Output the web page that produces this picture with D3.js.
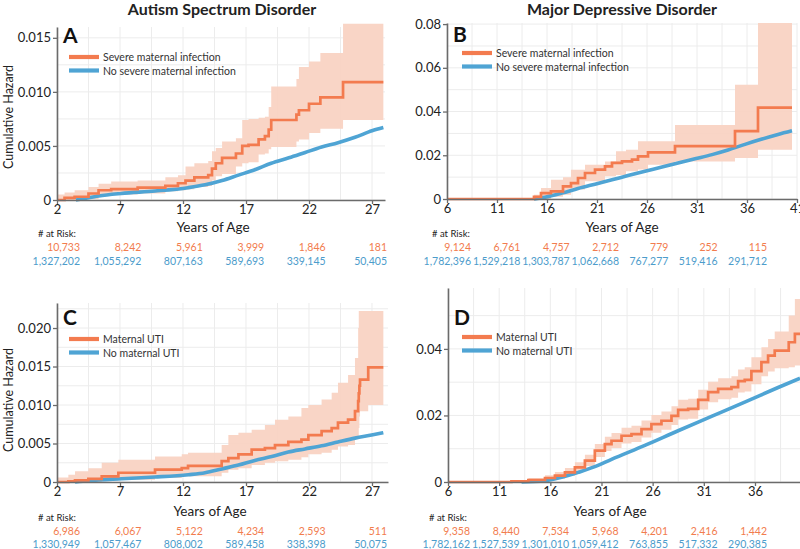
<!DOCTYPE html>
<html><head><meta charset="utf-8">
<script src="https://cdn.jsdelivr.net/npm/d3@7"></script>
<style>
body{margin:0;background:#fff;}
svg{display:block;font-family:Lato,'Open Sans',sans-serif;}
</style></head>
<body>
<svg id="chart" width="800" height="549"></svg>
<script>
// ---------- DATA ----------
// Panel A: Autism, severe maternal infection
const ageA_inf = [2.0,2.6,3.4,4.5,5.3,6.3,8.4,10.6,11.6,12.2,12.9,14.0,14.3,14.6,15.1,16.2,16.7,17.2,18.0,18.5,18.8,19.0,21.0,21.2,22.0,22.9,24.7,27.9];
const hazA_inf = [0,0.0002,0.0003,0.0006,0.0009,0.001,0.00115,0.0013,0.00155,0.0018,0.0021,0.0023,0.0029,0.0034,0.0039,0.0043,0.005,0.0051,0.0056,0.0059,0.0065,0.0074,0.0079,0.0083,0.0089,0.0095,0.0109,0.0109];
const loA_inf  = [0,0,0.0001,0.0001,0.0004,0.0005,0.0006,0.0008,0.0009,0.001,0.0012,0.0013,0.0018,0.0022,0.0024,0.0031,0.0034,0.0035,0.0042,0.0043,0.0047,0.0049,0.0054,0.0056,0.0062,0.0066,0.0074,0.0074];
const hiA_inf  = [0.0005,0.0007,0.0009,0.0012,0.0015,0.0017,0.0018,0.0021,0.0023,0.0031,0.0034,0.0036,0.0045,0.0048,0.0054,0.0057,0.0074,0.0075,0.0076,0.0077,0.0086,0.0105,0.0112,0.0123,0.0128,0.0136,0.0163,0.0163];
const ageA_no  = [3.5,4.0,5.3,7.1,9.8,12.4,13.75,15.1,16.4,17.7,19.0,20.4,21.7,23.0,24.3,25.65,27.0,27.9];
const hazA_no  = [0,0.0001,0.00037,0.0006,0.00083,0.00114,0.0014,0.0018,0.0023,0.0028,0.0034,0.0039,0.0044,0.0049,0.0053,0.0058,0.0064,0.0067];
const riskA_inf = [10733,8242,5961,3999,1846,181];
const riskA_no  = [1327202,1055292,807163,589693,339145,50405];

// Panel B: Major depressive disorder, severe maternal infection
const ageB_inf = [6,14.7,15.4,16.4,17.6,18.4,19.1,19.8,20.8,21.8,22.5,22.9,23.5,23.9,24.5,25.1,26.1,28.8,34.8,37.1,40.5];
const hazB_inf = [0,0.001,0.0027,0.0035,0.0058,0.0073,0.0096,0.0119,0.0134,0.0149,0.0165,0.0165,0.0172,0.0172,0.018,0.0195,0.0213,0.0242,0.0310,0.0418,0.0418];
const loB_inf  = [0,0,0,0.001,0.002,0.0043,0.0043,0.0081,0.0081,0.0104,0.0104,0.011,0.011,0.0127,0.0127,0.0135,0.0157,0.0172,0.0187,0.0225,0.0225];
const hiB_inf  = [0,0.002,0.005,0.0088,0.010,0.0134,0.0134,0.0157,0.0157,0.0172,0.0172,0.0218,0.0218,0.0225,0.0225,0.0264,0.0264,0.0338,0.0523,0.0805,0.0805];
const ageB_no  = [14.7,15.8,17.5,19.1,20.8,22.5,24.1,25.8,27.5,29.1,30.8,32.5,34.1,35.8,37.5,39.1,40.5];
const hazB_no  = [0,0.0008,0.0027,0.0048,0.0068,0.0088,0.0107,0.0127,0.0146,0.0165,0.0184,0.0203,0.0224,0.0250,0.0274,0.0295,0.0312];
const riskB_inf = [9124,6761,4757,2712,779,252,115];
const riskB_no  = [1782396,1529218,1303787,1062668,767277,519416,291712];

// Panel C: Autism, maternal UTI
const ageC_inf = [2.0,2.9,3.43,4.49,5.55,6.87,9.78,11.9,12.4,15.07,15.6,16.4,17.45,18.5,19.3,20.36,21.4,21.95,23.0,23.8,24.3,25.1,25.65,25.9,25.95,26.0,26.05,26.7,27.9];
const hazC_inf = [0,0.0001,0.0002,0.0004,0.00074,0.0012,0.0016,0.0018,0.0021,0.0027,0.0031,0.0036,0.0042,0.0044,0.0048,0.0052,0.0055,0.0061,0.0066,0.007,0.0077,0.0081,0.0092,0.0105,0.0115,0.0125,0.0133,0.0149,0.0149];
const loC_inf  = [0,0,0,0,0.00017,0.0003,0.00052,0.00074,0.00074,0.0012,0.0016,0.0018,0.0022,0.0025,0.0027,0.0029,0.0032,0.0036,0.0038,0.0042,0.0046,0.0048,0.0057,0.0057,0.0070,0.0085,0.0092,0.0100,0.0100];
const hiC_inf  = [0.0006,0.00095,0.0014,0.0018,0.0025,0.0029,0.0033,0.0036,0.0038,0.0048,0.0061,0.0064,0.0068,0.0074,0.0081,0.0085,0.0096,0.0100,0.0107,0.0116,0.0129,0.0139,0.0161,0.0200,0.0222,0.0222,0.0222,0.0222,0.0222];
const ageC_no  = [3.43,4.49,7.13,9.78,12.42,13.75,15.07,16.4,17.7,19.04,20.36,21.68,23.0,24.3,25.65,26.97,27.9];
const hazC_no  = [0,0.00017,0.00043,0.00065,0.00095,0.0012,0.0017,0.0022,0.0028,0.0033,0.0039,0.0043,0.0047,0.0052,0.0057,0.0061,0.0064];
const riskC_inf = [6986,6067,5122,4234,2593,511];
const riskC_no  = [1330949,1057467,808002,589458,338398,50075];

// Panel D: Major depressive disorder, maternal UTI
const ageD_inf = [6,12.2,13.85,15.48,16.45,17.43,18.4,19.38,20.35,21.33,21.98,22.96,23.93,24.91,25.88,26.86,27.84,28.49,29.47,30.45,31.42,32.4,33.7,34.35,35.0,35.65,36.63,37.28,37.93,39.3,39.9,40.4];
const hazD_inf = [0,0.0002,0.0006,0.0012,0.0019,0.0029,0.0044,0.0064,0.0094,0.0114,0.0124,0.0139,0.0144,0.0159,0.0174,0.0184,0.0199,0.0217,0.022,0.0247,0.027,0.028,0.0285,0.0303,0.0307,0.0333,0.036,0.038,0.0395,0.042,0.0445,0.0445];
const loD_inf  = [0,0,0.0001,0.0005,0.001,0.0018,0.0031,0.0048,0.0075,0.0093,0.0102,0.0116,0.012,0.0134,0.0148,0.0157,0.0171,0.0188,0.019,0.0218,0.024,0.0249,0.0253,0.0269,0.0272,0.0294,0.0318,0.0332,0.0342,0.0345,0.035,0.035];
const hiD_inf  = [0,0.0006,0.0012,0.002,0.003,0.0042,0.0059,0.0082,0.0114,0.0136,0.0147,0.0163,0.0169,0.0185,0.0201,0.0212,0.0228,0.0247,0.025,0.0277,0.0301,0.0312,0.0318,0.0338,0.0345,0.0375,0.0405,0.043,0.0452,0.05,0.055,0.055];
const ageD_no  = [13.19,15.48,17.1,18.73,20.35,21.98,25.24,28.49,31.75,35.0,38.26,40.4];
const hazD_no  = [0,0.0004,0.0014,0.0029,0.0046,0.0068,0.011,0.0154,0.0197,0.024,0.0284,0.0312];
const riskD_inf = [9358,8440,7534,5968,4201,2416,1442];
const riskD_no  = [1782162,1527539,1301010,1059412,763855,517332,290385];

const titles = ["Autism Spectrum Disorder","Major Depressive Disorder"];
const letters = ["A","B","C","D"];
const legendInfection = ["Severe maternal infection","No severe maternal infection"];
const legendUTI = ["Maternal UTI","No maternal UTI"];
const xTicksASD = [2,7,12,17,22,27];
const xTicksMDD_B = [6,11,16,21,26,31,36,41];
const xTicksMDD_D = [6,11,16,21,26,31,36];
const yTicksA = [0,0.005,0.010,0.015];
const yTicksB = [0,0.02,0.04,0.06,0.08];
const yTicksC = [0,0.005,0.010,0.015,0.020];
const yTicksD = [0,0.02,0.04];

// ---------- DRAW ----------
const ORANGE = "#f37b4f", BLUE = "#4fa4d4", BAND = "#f9d3c3";
const RISK_OR = "#f27c4e", RISK_BL = "#4c9ccb";
const svg = d3.select("#chart");

function zip(ages, vals){ return ages.map((a,i)=>[a, vals[i]]); }

function panel(c){
  const g = svg.append("g");
  const x = d3.scaleLinear().domain(c.xDomain).range([c.left, c.right]);
  const y = d3.scaleLinear().domain(c.yDomain).range([c.bottom, c.top]);

  // grid
  const xg = d3.range(c.xDomain[0], c.xDomain[1] + 1e-6, 2.5);
  g.selectAll(".vg").data(xg).join("line")
    .attr("x1", d=>x(d)).attr("x2", d=>x(d))
    .attr("y1", c.top).attr("y2", c.bottom)
    .attr("stroke", "#ececec").attr("stroke-width", 1);
  const yg = d3.range(0, c.yDomain[1] + 1e-9, c.yMinor);
  g.selectAll(".hg").data(yg).join("line")
    .attr("x1", c.left).attr("x2", c.right)
    .attr("y1", d=>y(d)).attr("y2", d=>y(d))
    .attr("stroke", "#ececec").attr("stroke-width", 1);

  // band
  const bandData = c.ageInf.map((a,i)=>({a, lo:c.loInf[i], hi:c.hiInf[i]}));
  g.append("path").datum(bandData)
    .attr("d", d3.area().curve(d3.curveStepAfter).x(d=>x(d.a)).y0(d=>y(d.lo)).y1(d=>y(d.hi)))
    .attr("fill", BAND).attr("opacity", 0.95);

  // blue line
  g.append("path").datum(zip(c.ageNo, c.hazNo))
    .attr("d", d3.line().curve(d3.curveMonotoneX).x(d=>x(d[0])).y(d=>y(d[1])))
    .attr("fill","none").attr("stroke", BLUE).attr("stroke-width", 3.6)
    .attr("stroke-linejoin","round");

  // orange step line
  g.append("path").datum(zip(c.ageInf, c.hazInf))
    .attr("d", d3.line().curve(d3.curveStepAfter).x(d=>x(d[0])).y(d=>y(d[1])))
    .attr("fill","none").attr("stroke", ORANGE).attr("stroke-width", 2.7);

  // axes
  const xa = g.append("g").attr("transform", `translate(0,${c.bottom})`)
    .call(d3.axisBottom(x).tickValues(c.xTicks).tickSize(4).tickSizeOuter(0).tickPadding(1).tickFormat(d3.format("d")));
  const ya = g.append("g").attr("transform", `translate(${c.left},0)`)
    .call(d3.axisLeft(y).tickValues(c.yTicks).tickSize(4).tickSizeOuter(0).tickPadding(2)
      .tickFormat(d=> d===0 ? "0" : d3.format(c.yFmt)(d)));
  [xa, ya].forEach(a=>{
    a.select(".domain").attr("stroke","#6b6b6b").attr("stroke-width",1.6);
    a.selectAll(".tick line").attr("stroke","#6b6b6b").attr("stroke-width",1.3);
    a.selectAll(".tick text").attr("fill","#222").style("font-size","13px").style("font-family","Lato,'Open Sans',sans-serif");
  });

  // panel letter
  g.append("text").attr("x", c.left + 6).attr("y", c.letterY)
    .text(c.letter).attr("font-size", 21).attr("font-weight", 700).attr("fill","#111");

  // legend
  c.legend.forEach((t,i)=>{
    const ly = c.legY + i*13.5;
    g.append("line").attr("x1", c.legX).attr("x2", c.legX+30).attr("y1", ly).attr("y2", ly)
      .attr("stroke", i===0?ORANGE:BLUE).attr("stroke-width", 4.2);
    g.append("text").attr("x", c.legX+34).attr("y", ly+4).text(t)
      .attr("font-size", 10.5).attr("fill","#333");
  });

  // x label
  g.append("text").attr("x", c.xLabX).attr("y", c.xLabY).attr("text-anchor","middle")
    .text("Years of Age").attr("font-size", 13.5).attr("fill","#222");

  // y label
  if (c.yLabel) {
    g.append("text").attr("transform", `translate(${c.yLabX},${c.yLabY}) rotate(-90)`)
      .attr("text-anchor","middle").text("Cumulative Hazard").attr("font-size", 12.5).attr("fill","#222");
  }

  // at risk
  g.append("text").attr("x", c.riskLabX).attr("y", c.riskLabY).text("# at Risk:")
    .attr("font-size", 9.5).attr("fill","#222");
  const rp = d3.scaleLinear().domain([0, c.riskInf.length-1]).range(c.riskRange);
  const fmt = d3.format(",");
  c.riskInf.forEach((v,i)=>{
    g.append("text").attr("x", rp(i)).attr("y", c.riskY0).attr("text-anchor","end")
      .text(fmt(v)).attr("font-size", 10.5).attr("fill", RISK_OR);
  });
  c.riskNo.forEach((v,i)=>{
    g.append("text").attr("x", rp(i)).attr("y", c.riskY0 + c.riskGap).attr("text-anchor","end")
      .text(fmt(v)).attr("font-size", 10.5).attr("fill", RISK_BL);
  });
}

// titles
svg.append("text").attr("x", 222).attr("y", 15).attr("text-anchor","middle")
  .text(titles[0]).attr("font-size", 16).attr("font-weight", 700).attr("fill","#222");
svg.append("text").attr("x", 622).attr("y", 15).attr("text-anchor","middle")
  .text(titles[1]).attr("font-size", 16).attr("font-weight", 700).attr("fill","#222");

panel({letter:letters[0], left:57, right:385, bottom:200, top:27,
  xDomain:[2,28.03], yDomain:[0,0.016], yMinor:0.0025, xTicks:xTicksASD, yTicks:yTicksA, yFmt:".3f",
  ageInf:ageA_inf, hazInf:hazA_inf, loInf:loA_inf, hiInf:hiA_inf, ageNo:ageA_no, hazNo:hazA_no,
  letterY:43, legend:legendInfection, legX:69, legY:57,
  xLabX:213, xLabY:232, yLabel:true, yLabX:13, yLabY:117,
  riskLabX:38, riskLabY:237, riskInf:riskA_inf, riskNo:riskA_no, riskRange:[80,387], riskY0:251, riskGap:14});

panel({letter:letters[1], left:447, right:797, bottom:199, top:23,
  xDomain:[6,41], yDomain:[0,0.0805], yMinor:0.01, xTicks:xTicksMDD_B, yTicks:yTicksB, yFmt:".2f",
  ageInf:ageB_inf, hazInf:hazB_inf, loInf:loB_inf, hiInf:hiB_inf, ageNo:ageB_no, hazNo:hazB_no,
  letterY:42, legend:legendInfection, legX:462, legY:53,
  xLabX:622, xLabY:232, yLabel:false,
  riskLabX:432, riskLabY:237, riskInf:riskB_inf, riskNo:riskB_no, riskRange:[471,767], riskY0:251, riskGap:14});

panel({letter:letters[2], left:57, right:388, bottom:482, top:303,
  xDomain:[2,28.27], yDomain:[0,0.02325], yMinor:0.0025, xTicks:xTicksASD, yTicks:yTicksC, yFmt:".3f",
  ageInf:ageC_inf, hazInf:hazC_inf, loInf:loC_inf, hiInf:hiC_inf, ageNo:ageC_no, hazNo:hazC_no,
  letterY:325, legend:legendUTI, legX:69, legY:339,
  xLabX:210, xLabY:516, yLabel:true, yLabX:13, yLabY:400,
  riskLabX:38, riskLabY:521, riskInf:riskC_inf, riskNo:riskC_no, riskRange:[80,387], riskY0:535, riskGap:12.5});

panel({letter:letters[3], left:448, right:800, bottom:482, top:288,
  xDomain:[6,40.4], yDomain:[0,0.0583], yMinor:0.01, xTicks:xTicksMDD_D, yTicks:yTicksD, yFmt:".2f",
  ageInf:ageD_inf, hazInf:hazD_inf, loInf:loD_inf, hiInf:hiD_inf, ageNo:ageD_no, hazNo:hazD_no,
  letterY:325, legend:legendUTI, legX:462, legY:337,
  xLabX:610, xLabY:516, yLabel:false,
  riskLabX:429, riskLabY:521, riskInf:riskD_inf, riskNo:riskD_no, riskRange:[470,767], riskY0:535, riskGap:12.5});
</script>
</body></html>
